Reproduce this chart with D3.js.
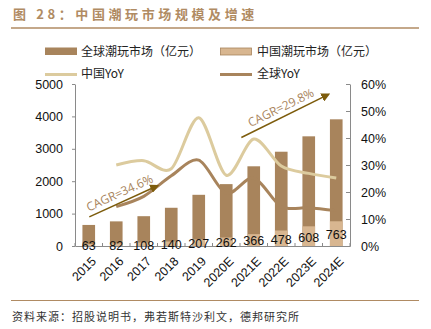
<!DOCTYPE html>
<html>
<head>
<meta charset="utf-8">
<script src="https://cdn.jsdelivr.net/npm/d3@7/dist/d3.min.js"></script>
<style>
  body { margin: 0; background: #fff; }
  svg { display: block; }
  .axis text { font-family: "Liberation Sans", Arial, sans-serif; font-size: 12.5px; fill: #111; }
  .cjk { font-family: "Noto Sans CJK SC", sans-serif; }
</style>
</head>
<body>
<svg id="chart" width="431" height="329"></svg>
<script>
// data
var years = ["2015", "2016", "2017", "2018", "2019", "2020E", "2021E", "2022E", "2023E", "2024E"];
var globalMarket = [650, 760, 920, 1180, 1580, 1910, 2460, 2910, 3385, 3910];   // 亿元
var chinaMarket = [63, 82, 108, 140, 207, 262, 366, 478, 608, 763];             // 亿元
var chinaYoY = [null, 30.0, 31.6, 28.6, 47.5, 26.2, 39.6, 29.6, 26.9, 25.2];    // %
var globalYoY = [null, 14.6, 18.4, 26.0, 31.8, 19.5, 25.2, 14.6, 14.2, 13.1];  // %
var leftTicks = [0, 1000, 2000, 3000, 4000, 5000];
var rightTicks = [0, 10, 20, 30, 40, 50, 60];
// CAGR arrows: [start index, start value, end index, end value] on the left axis
var cagrNotes = [
    {label: "CAGR=34.6%", from: [0.02, 900], to: [2.5, 1860]},
    {label: "CAGR=29.8%", from: [5.55, 3350], to: [8.72, 4680]}
];

var colorDark = "#a8845c";
var colorLight = "#d8b690";
var colorLineLight = "#dccb9e";
var colorArrow = "#7d5c0c";
var colorHead = "#b08b63";

var svg = d3.select("#chart");

// title and header rule
svg.append("text").attr("class", "cjk").attr("x", 13).attr("y", 18.5)
    .style("font-size", "13px").style("font-weight", "bold").style("letter-spacing", "3.6px")
    .style("fill", colorHead).text("图 28：中国潮玩市场规模及增速");
svg.append("line").attr("x1", 11).attr("x2", 419).attr("y1", 28).attr("y2", 28)
    .style("stroke", colorHead).style("stroke-width", 1.5);

// footer
svg.append("line").attr("x1", 11).attr("x2", 419).attr("y1", 300.5).attr("y2", 300.5)
    .style("stroke", colorHead).style("stroke-width", 1.2);
svg.append("text").attr("class", "cjk").attr("x", 12).attr("y", 321)
    .style("font-size", "11px").style("letter-spacing", "1px").style("fill", "#333")
    .text("资料来源：招股说明书，弗若斯特沙利文，德邦研究所");

// scales
var plotLeft = 75, plotRight = 350, plotTop = 84, plotBottom = 246;
var x = d3.scaleBand().domain(years).range([plotLeft, plotRight]).paddingInner(0.54).paddingOuter(0.27);
var yL = d3.scaleLinear().domain([0, 5000]).range([plotBottom, plotTop]);
var yR = d3.scaleLinear().domain([0, 60]).range([plotBottom, plotTop]);
var xi = function(i){ return x(years[0]) + x.bandwidth() / 2 + i * x.step(); };

// bars
var g = svg.append("g");
g.selectAll("rect.global").data(globalMarket).join("rect").attr("class", "global")
    .attr("x", function(d, i){ return x(years[i]); })
    .attr("width", x.bandwidth())
    .attr("y", function(d){ return yL(d); })
    .attr("height", function(d){ return yL(0) - yL(d); })
    .style("fill", colorDark);
g.selectAll("rect.china").data(chinaMarket).join("rect").attr("class", "china")
    .attr("x", function(d, i){ return x(years[i]); })
    .attr("width", x.bandwidth())
    .attr("y", function(d){ return yL(d); })
    .attr("height", function(d){ return yL(0) - yL(d); })
    .style("fill", colorLight);

// axes
var axL = svg.append("g").attr("class", "axis").attr("transform", "translate(" + plotLeft + ",0)")
    .call(d3.axisLeft(yL).tickValues(leftTicks).tickFormat(d3.format("d"))
        .tickSizeInner(3).tickSizeOuter(0).tickPadding(9));
var axR = svg.append("g").attr("class", "axis").attr("transform", "translate(" + plotRight + ",0)")
    .call(d3.axisRight(yR).tickValues(rightTicks).tickFormat(function(d){ return d + "%"; })
        .tickSizeInner(-4).tickSizeOuter(0).tickPadding(11));
var axB = svg.append("g").attr("class", "axis").attr("transform", "translate(0," + plotBottom + ")")
    .call(d3.axisBottom(x).tickSize(0).tickPadding(0));
svg.selectAll(".axis path, .axis line").style("stroke", "#8a8a8a");
axB.selectAll("text")
    .attr("text-anchor", "end")
    .attr("transform", function(){ return "translate(5,13) rotate(-45)"; })
    .attr("dy", "0.35em").attr("y", 0);
// category boundary ticks on the bottom axis
svg.append("g").selectAll("line").data(d3.range(years.length + 1)).join("line")
    .attr("x1", function(i){ return xi(i - 0.5); }).attr("x2", function(i){ return xi(i - 0.5); })
    .attr("y1", plotBottom).attr("y2", plotBottom - 3)
    .style("stroke", "#8a8a8a");

// value labels for China market
svg.append("g").selectAll("text").data(chinaMarket).join("text")
    .attr("x", function(d, i){ return xi(i); })
    .attr("y", function(d){ return (yL(0) + yL(d)) / 2 + 1; })
    .attr("text-anchor", "middle").attr("dy", "0.35em")
    .style("font-family", "'Liberation Sans', Arial, sans-serif").style("font-size", "12.5px").style("fill", "#111")
    .text(function(d){ return d; });

// YoY lines
var line = d3.line()
    .defined(function(d){ return d != null; })
    .x(function(d, i){ return xi(i); })
    .y(function(d){ return yR(d); })
    .curve(d3.curveCardinal.tension(0.1));
svg.append("path").attr("d", line(chinaYoY))
    .style("fill", "none").style("stroke", colorLineLight).style("stroke-width", 3);
svg.append("path").attr("d", line(globalYoY))
    .style("fill", "none").style("stroke", colorDark).style("stroke-width", 3);

// CAGR arrows
svg.append("defs").append("marker").attr("id", "arrow")
    .attr("viewBox", "0 0 10 10").attr("refX", 8).attr("refY", 5)
    .attr("markerWidth", 6).attr("markerHeight", 6).attr("orient", "auto")
    .append("path").attr("d", "M0,0 L10,5 L0,10 z").style("fill", colorArrow);
cagrNotes.forEach(function(n){
    var x1 = xi(n.from[0]), y1 = yL(n.from[1]), x2 = xi(n.to[0]), y2 = yL(n.to[1]);
    svg.append("line").attr("x1", x1).attr("y1", y1).attr("x2", x2).attr("y2", y2)
        .style("stroke", colorArrow).style("stroke-width", 1.5).attr("marker-end", "url(#arrow)");
    var ang = Math.atan2(y2 - y1, x2 - x1) * 180 / Math.PI;
    svg.append("text").attr("text-anchor", "middle")
        .attr("transform", "translate(" + ((x1 + x2) / 2) + "," + ((y1 + y2) / 2) + ") rotate(" + ang + ")")
        .attr("y", -5)
        .style("font-family", "'Open Sans', sans-serif").style("font-size", "12px").style("fill", colorDark)
        .text(n.label);
});

// legend
var legend = svg.append("g").attr("class", "cjk").style("font-size", "12px").style("fill", "#222");
legend.append("rect").attr("x", 45).attr("y", 47.5).attr("width", 32).attr("height", 7.5).style("fill", colorDark);
legend.append("text").attr("x", 81).attr("y", 51.5).attr("dy", "0.35em").text("全球潮玩市场（亿元）");
legend.append("rect").attr("x", 220.5).attr("y", 48).attr("width", 31).attr("height", 7)
    .style("fill", colorLight).style("stroke", colorDark).style("stroke-width", 0.8);
legend.append("text").attr("x", 257).attr("y", 51.5).attr("dy", "0.35em").text("中国潮玩市场（亿元）");
legend.append("line").attr("x1", 45).attr("x2", 77).attr("y1", 74.5).attr("y2", 74.5)
    .style("stroke", colorLineLight).style("stroke-width", 3);
legend.append("text").attr("x", 81).attr("y", 74).attr("dy", "0.35em").text("中国YoY");
legend.append("line").attr("x1", 220).attr("x2", 252).attr("y1", 74.5).attr("y2", 74.5)
    .style("stroke", colorDark).style("stroke-width", 3);
legend.append("text").attr("x", 257).attr("y", 74).attr("dy", "0.35em").text("全球YoY");
</script>
</body>
</html>
